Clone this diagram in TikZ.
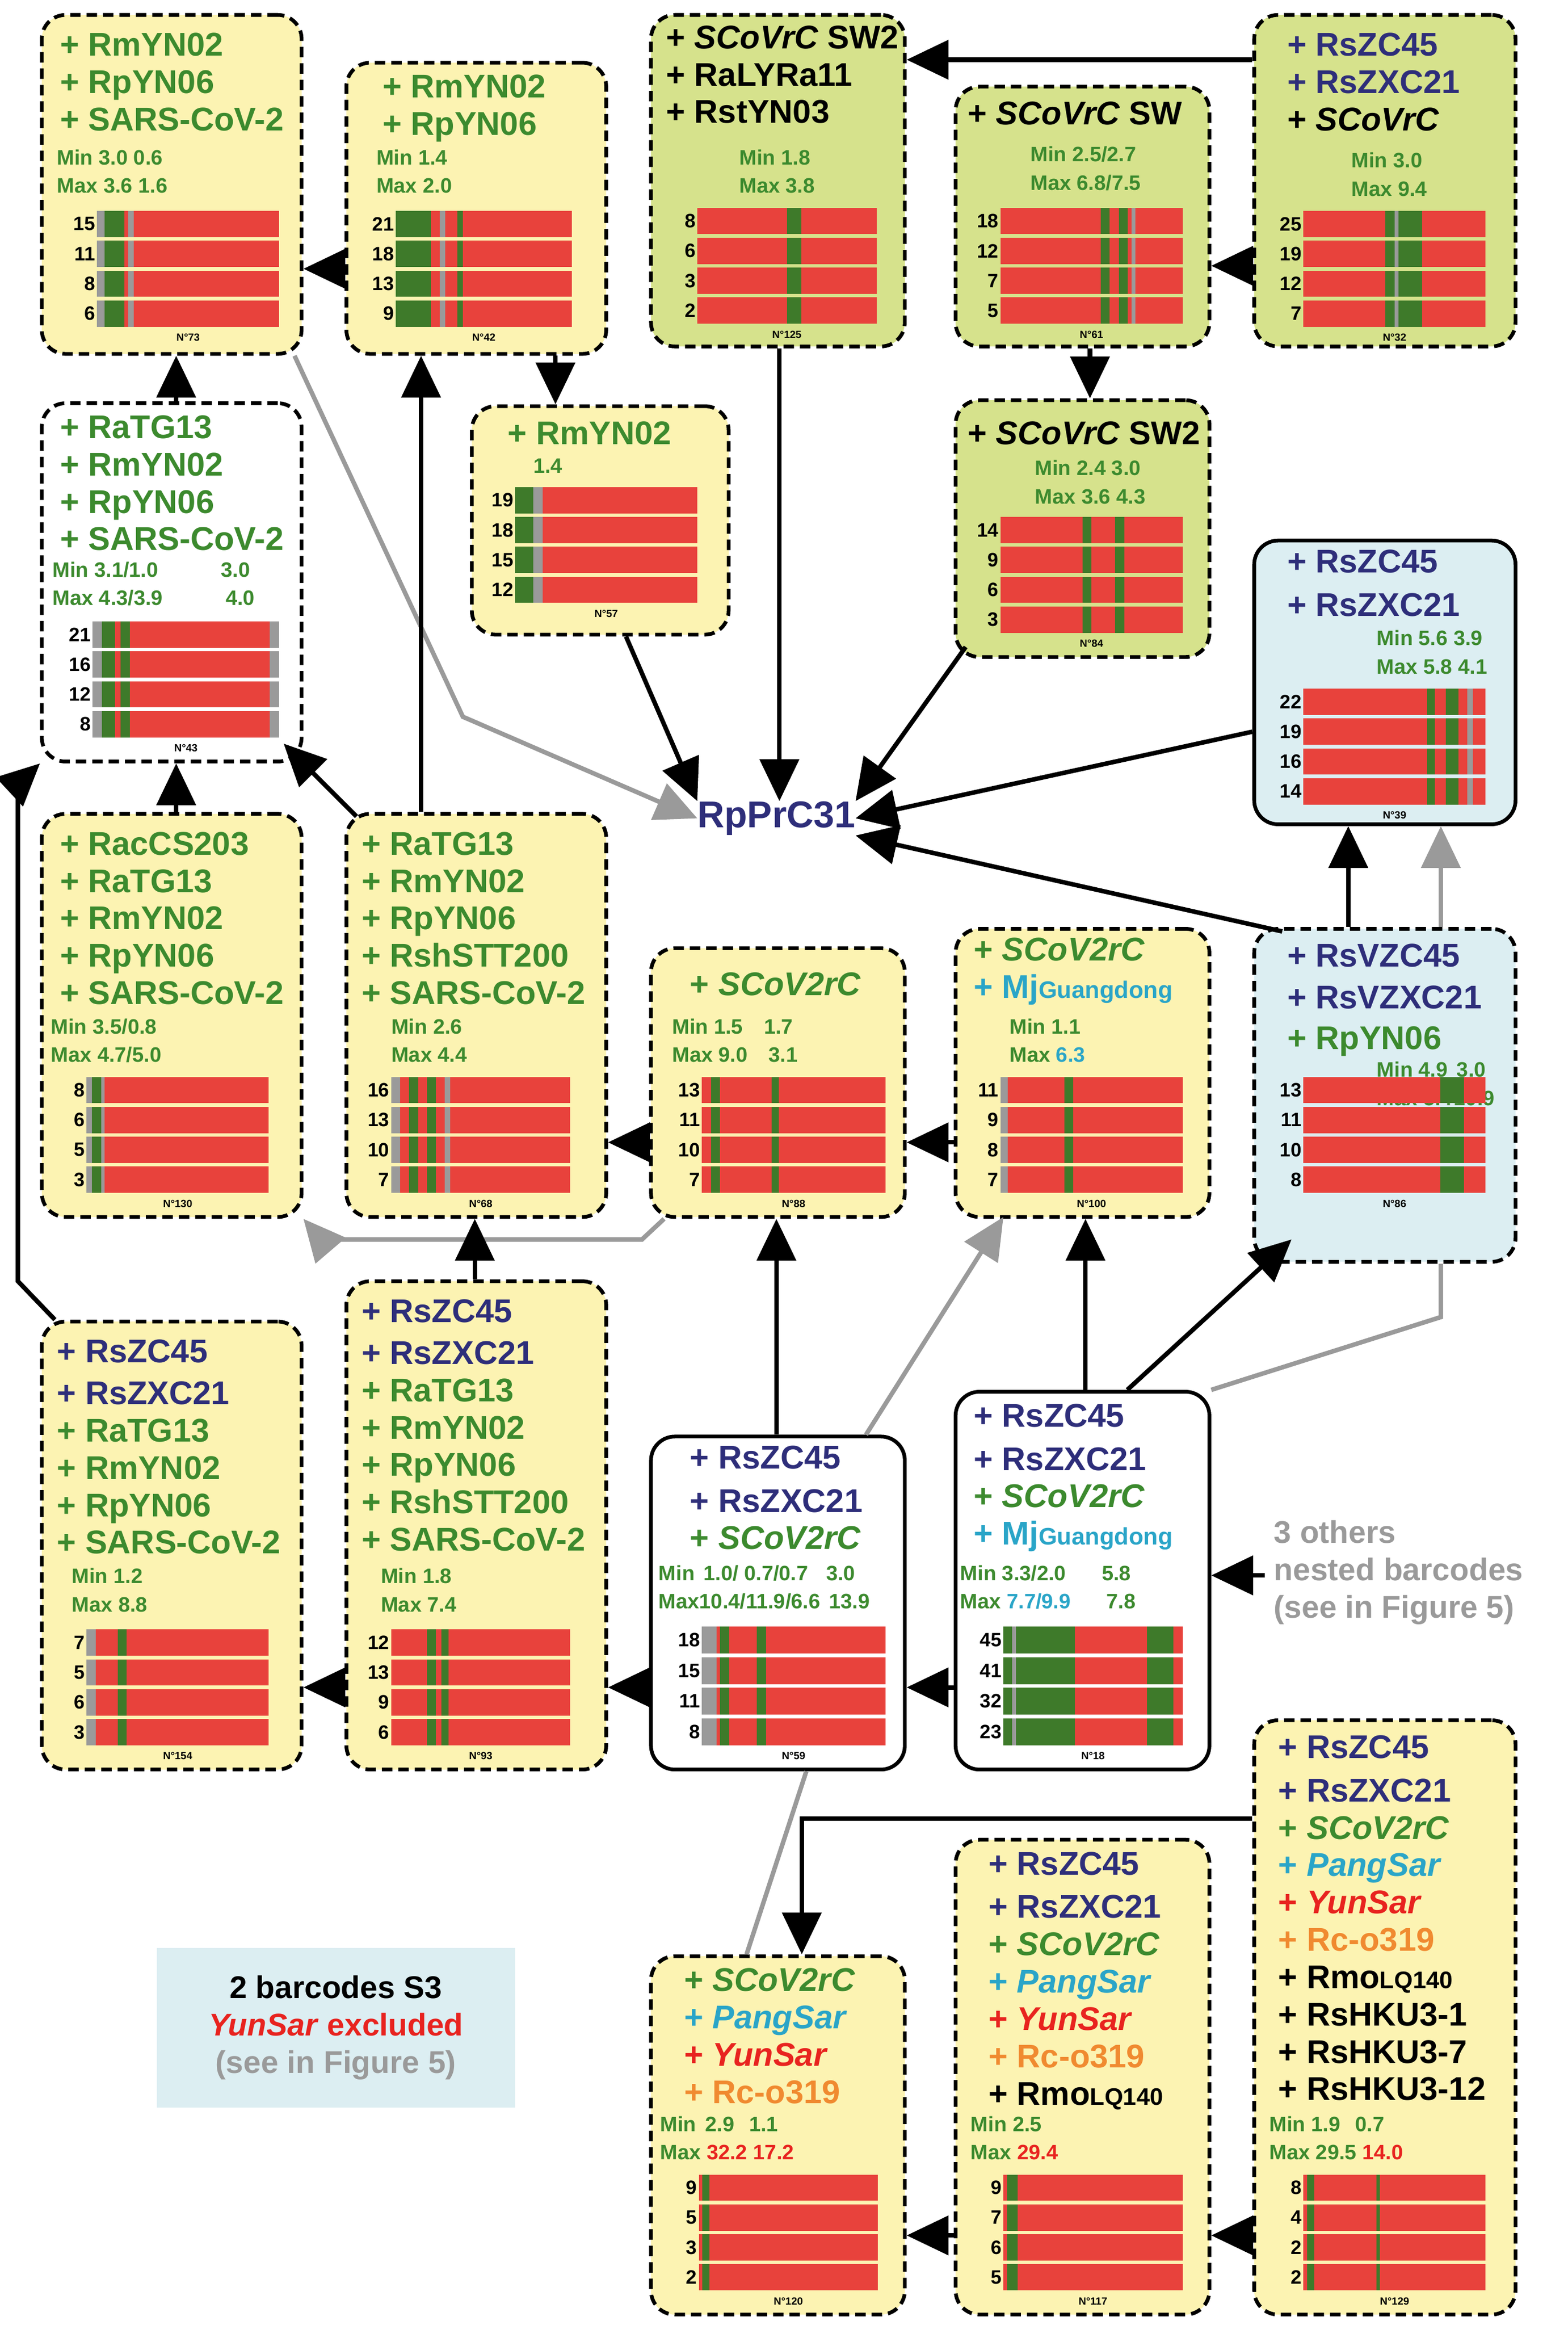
\documentclass[tikz,border=0pt]{standalone}
\usepackage{fontspec}
\setmainfont{Liberation Sans}
\usetikzlibrary{arrows.meta}
\definecolor{gr}{HTML}{3C8A2E}
\definecolor{nv}{HTML}{2E2E7A}
\definecolor{cy}{HTML}{2AA5C8}
\definecolor{rd}{HTML}{E8231F}
\definecolor{orc}{HTML}{F08A30}
\definecolor{gy}{HTML}{9A9A9A}
\definecolor{yel}{HTML}{FCF3B2}
\definecolor{grn}{HTML}{D6E28C}
\definecolor{lbl}{HTML}{DCEEF2}
\definecolor{barred}{HTML}{E8423C}
\definecolor{bargreen}{HTML}{3E7A2A}
\definecolor{bargray}{HTML}{9A9A9A}
\newcommand\cg[1]{\textcolor{gr}{#1}}
\newcommand\cn[1]{\textcolor{nv}{#1}}
\newcommand\cc[1]{\textcolor{cy}{#1}}
\newcommand\cre[1]{\textcolor{rd}{#1}}
\newcommand\co[1]{\textcolor{orc}{#1}}
\newcommand\sm[1]{{\fontsize{16}{16}\selectfont #1}}
\tikzset{
 box/.style={draw=black,line width=2.5pt,dash pattern=on 7pt off 4pt,rounded corners=16pt},
 sbox/.style={draw=black,line width=2.5pt,rounded corners=16pt},
 lab/.style={inner sep=0pt,anchor=north west,align=left,font=\fontsize{22}{25}\selectfont\bfseries},
 mm/.style={inner sep=0pt,anchor=north west,align=left,text=gr,font=\fontsize{14}{19}\selectfont\bfseries},
 rowlab/.style={inner sep=1pt,anchor=east,font=\fontsize{13}{13}\selectfont\bfseries},
 nlab/.style={inner sep=0pt,font=\fontsize{7}{7}\selectfont\bfseries},
 ar/.style={line width=3pt,-{Triangle[length=28pt,width=26pt]}},
 gar/.style={line width=3pt,draw=gy,-{Triangle[length=28pt,width=26pt]},color=gy},
 gl/.style={line width=3pt,draw=gy},
}
\newcommand\bx[6]{\pgfmathsetmacro\bw{#4-#2}\pgfmathsetmacro\bhh{#5-#3}%
 \node[#6,minimum width=\bw pt,minimum height=\bhh pt] (#1) at ({(#2+#4)/2},{(#3+#5)/2}) {};}
\newcommand\bcode[8]{%
 \pgfmathsetmacro\rh{(#4-#2)/4}%
 \foreach \l [count=\i from 0] in {#5}{%
  \pgfmathsetmacro\ya{#2+\i*\rh+1.2}\pgfmathsetmacro\yb{#2+(\i+1)*\rh-1.2}%
  \fill[barred] (#1,\ya) rectangle (#3,\yb);
  \foreach \ga/\gb/\gc in {#6}{\fill[\gc] ({#1+\ga*(#3-#1)},\ya) rectangle ({#1+\gb*(#3-#1)},\yb);}
  \node[rowlab] (#8r\i) at (#1,{(\ya+\yb)/2}) {\l};
 }
 \node[nlab] (#8n) at ({(#1+#3)/2},#4+6) {N°#7};
}
\begin{document}
\begin{tikzpicture}[x=1pt,y=-1pt]
\useasboundingbox (0,0) rectangle (1050,1557);
% boxes
\bx{A}{28}{10}{202}{237}{box,fill=yel}
\bx{B}{232}{42}{406}{237}{box,fill=yel}
\bx{C}{436}{10}{606}{232}{box,fill=grn}
\bx{D}{640}{58}{810}{232}{box,fill=grn}
\bx{E}{840}{10}{1015}{232}{box,fill=grn}
\bx{F}{28}{270}{202}{510}{box,fill=white}
\bx{G}{316}{272}{488}{425}{box,fill=yel}
\bx{H}{640}{268}{810}{440}{box,fill=grn}
\bx{I}{840}{362}{1015}{552}{sbox,fill=lbl}
\bx{J}{28}{545}{202}{815}{box,fill=yel}
\bx{K}{232}{545}{406}{815}{box,fill=yel}
\bx{L}{436}{635}{606}{815}{box,fill=yel}
\bx{M}{640}{622}{810}{815}{box,fill=yel}
\bx{N}{840}{622}{1015}{845}{box,fill=lbl}
\bx{O}{28}{885}{202}{1185}{box,fill=yel}
\bx{P}{232}{858}{406}{1185}{box,fill=yel}
\bx{Q}{436}{962}{606}{1185}{sbox,fill=white}
\bx{R}{640}{932}{810}{1185}{sbox,fill=white}
\bx{S}{840}{1152}{1015}{1550}{box,fill=yel}
\bx{T}{640}{1232}{810}{1550}{box,fill=yel}
\bx{U}{436}{1310}{606}{1550}{box,fill=yel}
\node[fill=lbl,minimum width=240pt,minimum height=107pt,inner sep=0pt] (LG) at (225,1358) {};
\node[align=center,inner sep=0pt,font=\fontsize{21}{25}\selectfont\bfseries] (LGt) at (225,1358) {2 barcodes S3\\\cre{\textit{YunSar} excluded}\\\textcolor{gy}{(see in Figure 5)}};
% texts
\node[lab] (At) at (40,22) {\cg{+ RmYN02}\\\cg{+ RpYN06}\\\cg{+ SARS-CoV-2}};
\node[mm] (Am) at (38,100) {Min 3.0 0.6\\Max 3.6 1.6};
\node[lab] (Bt) at (256,50) {\cg{+ RmYN02}\\\cg{+ RpYN06}};
\node[mm] (Bm) at (252,100) {Min 1.4\\Max 2.0};
\node[lab] (Ct) at (446,17) {+ \textit{SCoVrC} SW2\\+ RaLYRa11\\+ RstYN03};
\node[mm] (Cm) at (495,100) {Min 1.8\\Max 3.8};
\node[lab] (Dt) at (648,68) {+ \textit{SCoVrC} SW};
\node[mm] (Dm) at (690,98) {Min 2.5/2.7\\Max 6.8/7.5};
\node[lab] (Et) at (862,22) {\cn{+ RsZC45}\\\cn{+ RsZXC21}\\+ \textit{SCoVrC}};
\node[mm] (Em) at (905,102) {Min 3.0\\Max 9.4};
\node[lab] (Ft) at (40,278) {\cg{+ RaTG13}\\\cg{+ RmYN02}\\\cg{+ RpYN06}\\\cg{+ SARS-CoV-2}};
\node[mm] (Fm) at (35,376) {Min 3.1/1.0\hspace{42pt}3.0\\Max 4.3/3.9\hspace{42pt}4.0};
\node[lab] (Gt) at (340,282) {\cg{+ RmYN02}};
\node[mm] (Gm) at (357,307) {1.4};
\node[lab] (Ht) at (648,282) {+ \textit{SCoVrC} SW2};
\node[mm] (Hm) at (693,308) {Min 2.4 3.0\\Max 3.6 4.3};
\node[lab] (It) at (862,368) {\cn{+ RsZC45}\\[4pt]\cn{+ RsZXC21}};
\node[mm] (Im) at (922,422) {Min 5.6 3.9\\Max 5.8 4.1};
\node[inner sep=0pt,text=nv,font=\fontsize{25}{25}\selectfont\bfseries] (Rp) at (520,548) {RpPrC31};
\node[lab] (Jt) at (40,557) {\cg{+ RacCS203}\\\cg{+ RaTG13}\\\cg{+ RmYN02}\\\cg{+ RpYN06}\\\cg{+ SARS-CoV-2}};
\node[mm] (Jm) at (34,682) {Min 3.5/0.8\\Max 4.7/5.0};
\node[lab] (Kt) at (242,557) {\cg{+ RaTG13}\\\cg{+ RmYN02}\\\cg{+ RpYN06}\\\cg{+ RshSTT200}\\\cg{+ SARS-CoV-2}};
\node[mm] (Km) at (262,682) {Min 2.6\\Max 4.4};
\node[lab] (Lt) at (462,651) {\cg{+ \textit{SCoV2rC}}};
\node[mm] (Lm) at (450,682) {Min 1.5\hspace{14pt}1.7\\Max 9.0\hspace{14pt}3.1};
\node[lab] (Mt) at (652,628) {\cg{+ \textit{SCoV2rC}}\\\cc{+ Mj\sm{Guangdong}}};
\node[mm] (Mm) at (676,682) {Min 1.1\\Max \textcolor{cy}{6.3}};
\node[lab] (Nt) at (862,632) {\cn{+ RsVZC45}\\[3pt]\cn{+ RsVZXC21}\\[2pt]\cg{+ RpYN06}};
\node[mm] (Nm) at (922,711) {Min 4.9\hspace{6pt}3.0\\Max 5.4\hspace{1pt}10.9};
\node[lab] (Ot) at (38,897) {\cn{+ RsZC45}\\[3pt]\cn{+ RsZXC21}\\\cg{+ RaTG13}\\\cg{+ RmYN02}\\\cg{+ RpYN06}\\\cg{+ SARS-CoV-2}};
\node[mm] (Om) at (48,1050) {Min 1.2\\Max 8.8};
\node[lab] (Pt) at (242,870) {\cn{+ RsZC45}\\[3pt]\cn{+ RsZXC21}\\\cg{+ RaTG13}\\\cg{+ RmYN02}\\\cg{+ RpYN06}\\\cg{+ RshSTT200}\\\cg{+ SARS-CoV-2}};
\node[mm] (Pm) at (255,1050) {Min 1.8\\Max 7.4};
\node[lab] (Qt) at (462,968) {\cn{+ RsZC45}\\[4pt]\cn{+ RsZXC21}\\\cg{+ \textit{SCoV2rC}}};
\node[mm] (Qm) at (441,1048) {Min\hspace{6pt}1.0/ 0.7/0.7\hspace{12pt}3.0\\Max10.4/11.9/6.6\hspace{6pt}13.9};
\node[lab] (Rt) at (652,940) {\cn{+ RsZC45}\\[4pt]\cn{+ RsZXC21}\\\cg{+ \textit{SCoV2rC}}\\\cc{+ Mj\sm{Guangdong}}};
\node[mm] (Rm) at (643,1048) {Min 3.3/2.0\hspace{24pt}5.8\\Max \textcolor{cy}{7.7/9.9}\hspace{24pt}7.8};
\node[inner sep=0pt,align=left,anchor=north west,text=gy,font=\fontsize{21}{25}\selectfont\bfseries] (Ot3) at (853,1018) {3 others\\nested barcodes\\(see in Figure 5)};
\node[lab] (St) at (856,1162) {\cn{+ RsZC45}\\[4pt]\cn{+ RsZXC21}\\\cg{+ \textit{SCoV2rC}}\\\cc{+ \textit{PangSar}}\\\cre{+ \textit{YunSar}}\\\co{+ Rc-o319}\\+ Rmo\sm{LQ140}\\+ RsHKU3-1\\+ RsHKU3-7\\+ RsHKU3-12};
\node[mm] (Sm) at (850,1417) {Min\hspace{4pt}1.9\hspace{10pt}0.7\\Max 29.5\hspace{4pt}\textcolor{rd}{14.0}};
\node[lab] (Tt) at (662,1240) {\cn{+ RsZC45}\\[4pt]\cn{+ RsZXC21}\\\cg{+ \textit{SCoV2rC}}\\\cc{+ \textit{PangSar}}\\\cre{+ \textit{YunSar}}\\\co{+ Rc-o319}\\+ Rmo\sm{LQ140}};
\node[mm] (Tm) at (650,1417) {Min\hspace{4pt}2.5\\Max \textcolor{rd}{29.4}};
\node[lab] (Ut) at (458,1318) {\cg{+ \textit{SCoV2rC}}\\\cc{+ \textit{PangSar}}\\\cre{+ \textit{YunSar}}\\\co{+ Rc-o319}};
\node[mm] (Um) at (442,1417) {Min\hspace{6pt}2.9\hspace{10pt}1.1\\Max \textcolor{rd}{32.2}\hspace{4pt}\textcolor{rd}{17.2}};
% barcodes
\bcode{65}{140}{187}{220}{15,11,8,6}{0/0.04/bargray,0.04/0.15/bargreen,0.17/0.2/bargray}{73}{bA}
\bcode{265}{140}{383}{220}{21,18,13,9}{0/0.2/bargreen,0.25/0.28/bargray,0.35/0.38/bargreen}{42}{bB}
\bcode{467}{138}{587}{218}{8,6,3,2}{0.5/0.58/bargreen}{125}{bC}
\bcode{670}{138}{792}{218}{18,12,7,5}{0.55/0.6/bargreen,0.65/0.7/bargreen,0.72/0.74/bargray}{61}{bD}
\bcode{873}{140}{995}{220}{25,19,12,7}{0.45/0.65/bargreen,0.5/0.52/bargray}{32}{bE}
\bcode{62}{415}{187}{495}{21,16,12,8}{0/0.05/bargray,0.05/0.12/bargreen,0.15/0.2/bargreen,0.95/1/bargray}{43}{bF}
\bcode{345}{325}{467}{405}{19,18,15,12}{0/0.1/bargreen,0.1/0.15/bargray}{57}{bG}
\bcode{670}{345}{792}{425}{14,9,6,3}{0.45/0.5/bargreen,0.63/0.68/bargreen}{84}{bH}
\bcode{873}{460}{995}{540}{22,19,16,14}{0.68/0.72/bargreen,0.78/0.85/bargreen,0.9/0.93/bargray}{39}{bI}
\bcode{58}{720}{180}{800}{8,6,5,3}{0/0.1/bargray,0.03/0.08/bargreen}{130}{bJ}
\bcode{262}{720}{382}{800}{16,13,10,7}{0/0.05/bargray,0.1/0.15/bargreen,0.2/0.25/bargreen,0.3/0.33/bargray}{68}{bK}
\bcode{470}{720}{593}{800}{13,11,10,7}{0.05/0.1/bargreen,0.38/0.42/bargreen}{88}{bL}
\bcode{670}{720}{792}{800}{11,9,8,7}{0/0.04/bargray,0.35/0.4/bargreen}{100}{bM}
\bcode{873}{720}{995}{800}{13,11,10,8}{0.75/0.88/bargreen}{86}{bN}
\bcode{58}{1090}{180}{1170}{7,5,6,3}{0/0.05/bargray,0.17/0.22/bargreen}{154}{bO}
\bcode{262}{1090}{382}{1170}{12,13,9,6}{0.2/0.25/bargreen,0.28/0.32/bargreen}{93}{bP}
\bcode{470}{1088}{593}{1170}{18,15,11,8}{0/0.08/bargray,0.1/0.15/bargreen,0.3/0.35/bargreen}{59}{bQ}
\bcode{672}{1088}{792}{1170}{45,41,32,23}{0/0.4/bargreen,0.05/0.07/bargray,0.8/0.95/bargreen}{18}{bR}
\bcode{873}{1455}{995}{1535}{8,4,2,2}{0.02/0.06/bargreen,0.4/0.42/bargreen}{129}{bS}
\bcode{672}{1455}{792}{1535}{9,7,6,5}{0.02/0.08/bargreen}{117}{bT}
\bcode{468}{1455}{588}{1535}{9,5,3,2}{0.02/0.06/bargreen}{120}{bU}
% connectors
\draw[ar] (B.west |- 0,180) -- (A.east |- 0,180);
\draw[ar] (B.south -| 372,0) -- (G.north -| 372,0);
\draw[ar] (E.west |- 0,178) -- (D.east |- 0,178);
\draw[ar] (E.west |- 0,40) -- (C.east |- 0,40);
\draw[ar] (D.south -| 730,0) -- (H.north -| 730,0);
\draw[ar] (C.south -| 522,0) -- (Rp.north -| 522,0);
\draw[ar] (G.south east) ++(-70,0) -- (Rp.north west);
\draw[ar] (H.south west) ++(8,-8) -- (Rp.north east);
\draw[ar] (I.west |- 0,490) -- (Rp.east);
\draw[ar] (N.north west) ++(20,3) -- (Rp.south east);
\draw[ar] (N.north -| 903,0) -- (I.south -| 903,0);
\draw[gar] (N.north -| 965,0) -- (I.south -| 965,0);
\draw[gar] (A.south east) ++(-6,0) -- (310,480) -- (Rp.west);
\draw[ar] (F.north -| 118,0) -- (A.south -| 118,0);
\draw[ar] (K.north -| 282,0) -- (B.south -| 282,0);
\draw[ar] (J.north -| 118,0) -- (F.south -| 118,0);
\draw[ar] (K.north west) ++(8,3) -- (190,498);
\draw[ar] (L.west |- 0,765) -- (K.east |- 0,765);
\draw[ar] (M.west |- 0,765) -- (L.east |- 0,765);
\draw[gar] (L.south west) ++(10,0) -- (430,830) -- (215,830) -- (J.south east);
\draw[ar] (P.north -| 318,0) -- (K.south -| 318,0);
\draw[ar] (O.north west) ++(10,0) -- (12,858) -- (12,525) -- (F.south west);
\draw[ar] (Q.north -| 520,0) -- (L.south -| 520,0);
\draw[ar] (Q.west |- 0,1130) -- (P.east |- 0,1130);
\draw[ar] (P.west |- 0,1130) -- (O.east |- 0,1130);
\draw[ar] (R.west |- 0,1130) -- (Q.east |- 0,1130);
\draw[ar] (R.north -| 727,0) -- (M.south -| 727,0);
\draw[ar] (R.north -| 755,0) -- (865,830);
\draw[gar] (Q.north -| 580,0) -- (672,815);
\draw[gl] (N.south -| 965,0) -- (965,882) -- (R.north east);
\draw[gl] (Q.south -| 540,0) -- (U.north -| 500,0);
\draw[ar] (S.west |- 0,1218) -- (537,1218) -- (U.north -| 537,0);
\draw[ar] (S.west |- 0,1497) -- (T.east |- 0,1497);
\draw[ar] (T.west |- 0,1497) -- (U.east |- 0,1497);
\draw[ar] (Ot3.west |- 0,1055) ++(-6,0) -- (R.east |- 0,1055);
\end{tikzpicture}
\end{document}
